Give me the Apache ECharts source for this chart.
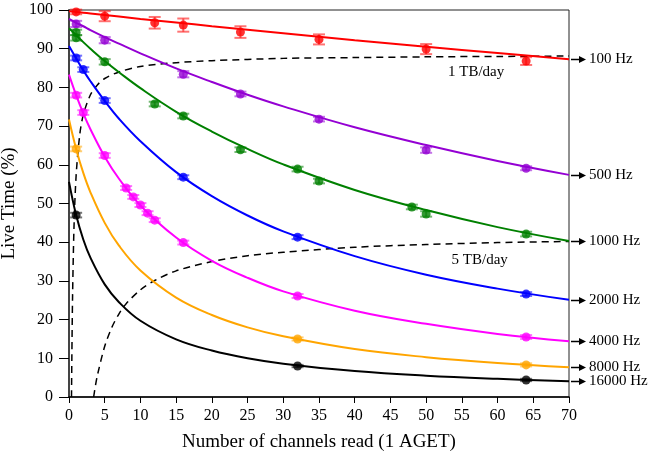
<!DOCTYPE html>
<html>
<head>
<meta charset="utf-8">
<script src="https://cdn.jsdelivr.net/npm/echarts@6/dist/echarts.min.js"></script>
<style>
html, body { margin: 0; padding: 0; background: #fff; }
#main { width: 651px; height: 459px; }
</style>
</head>
<body>
<div id="main"></div>
<script>
// fitted curves, sampled along x
var fitX = [0, 1, 2, 3, 5, 7, 10, 15, 20, 25, 30, 40, 50, 60, 70];
var fit100 = [99.7, 99.5, 99.3, 99.1, 98.7, 98.3, 97.7, 96.8, 95.8, 94.9, 94.0, 92.2, 90.5, 88.9, 87.3];
var fit500 = [97.7, 96.7, 95.8, 94.8, 93.0, 91.3, 88.8, 84.9, 81.4, 78.1, 75.1, 69.7, 65.1, 61.0, 57.4];
var fit1000 = [95.3, 93.5, 91.7, 90.0, 86.8, 83.9, 79.8, 73.7, 68.6, 64.1, 60.1, 53.5, 48.3, 43.9, 40.3];
var fit2000 = [90.7, 87.5, 84.4, 81.6, 76.5, 71.9, 66.1, 58.1, 51.9, 46.9, 42.8, 36.4, 31.6, 28.0, 25.1];
var fit4000 = [83.3, 78.0, 73.3, 69.2, 62.1, 56.4, 49.5, 41.2, 35.2, 30.8, 27.3, 22.3, 18.9, 16.3, 14.4];
var fit8000 = [71.7, 64.1, 57.9, 52.9, 45.0, 39.1, 32.7, 25.7, 21.2, 18.0, 15.7, 12.4, 10.3, 8.8, 7.7];
var fit16000 = [55.6, 47.0, 40.7, 36.0, 29.1, 24.5, 19.7, 14.9, 12.0, 10.0, 8.6, 6.7, 5.5, 4.7, 4.1];

// measured points: channels, live time, error
var m100X = [1, 5, 12, 16, 24, 35, 50, 64];
var m100Y = [99.5, 98.4, 96.7, 96.1, 94.3, 92.4, 89.9, 86.8];
var m100E = [0.6, 1.3, 1.5, 1.7, 1.5, 1.3, 1.3, 1.0];
var m500X = [1, 5, 16, 24, 35, 50, 64];
var m500Y = [96.4, 92.2, 83.4, 78.3, 71.8, 63.8, 59.1];
var m500E = [0.8, 0.8, 0.8, 0.6, 0.6, 0.7, 0.5];
var m1000X = [1, 1, 5, 12, 16, 24, 32, 35, 48, 50, 64];
var m1000Y = [94.2, 92.8, 86.6, 75.7, 72.6, 63.9, 58.9, 55.8, 49.1, 47.3, 42.1];
var m1000E = [0.7, 0.7, 0.7, 0.6, 0.6, 0.6, 0.6, 0.6, 0.6, 0.7, 0.6];
var m2000X = [1, 2, 5, 16, 32, 64];
var m2000Y = [87.6, 84.6, 76.6, 56.8, 41.3, 26.6];
var m2000E = [0.6, 0.6, 0.6, 0.5, 0.5, 0.5];
var m4000X = [1, 2, 5, 8, 9, 10, 11, 12, 16, 32, 64];
var m4000Y = [78.0, 73.5, 62.4, 54.0, 51.7, 49.6, 47.5, 45.7, 39.9, 26.1, 15.5];
var m4000E = [0.6, 0.6, 0.6, 0.5, 0.5, 0.5, 0.5, 0.5, 0.5, 0.5, 0.5];
var m8000X = [1, 32, 64];
var m8000Y = [64.1, 15.0, 8.3];
var m8000E = [0.6, 0.4, 0.4];
var m16000X = [1, 32, 64];
var m16000Y = [47.0, 8.0, 4.4];
var m16000E = [0.6, 0.3, 0.3];

// data-rate limits
var tb1X = [0.35, 0.4, 0.5, 0.7, 1, 1.5, 2, 3, 4, 5, 7, 10, 15, 20, 30, 40, 50, 60, 70];
var tb1Y = [0, 10.4, 26.0, 43.9, 57.3, 67.7, 72.9, 78.1, 80.7, 82.3, 84.0, 85.4, 86.4, 86.9, 87.5, 87.7, 87.9, 88.0, 88.1];
var tb5X = [3.45, 3.7, 4, 5, 6, 7, 8, 10, 12, 15, 20, 25, 30, 40, 50, 60, 70];
var tb5Y = [0, 2.9, 5.8, 13.1, 18.0, 21.5, 24.1, 27.7, 30.1, 32.6, 35.0, 36.5, 37.4, 38.7, 39.4, 39.9, 40.2];

var rateNames = ['100 Hz', '500 Hz', '1000 Hz', '2000 Hz', '4000 Hz', '8000 Hz', '16000 Hz'];
var rateColors = ['#ff0000', '#9400d3', '#008000', '#0000ff', '#ff00ff', '#ffa500', '#000000'];

var fits = [fit100, fit500, fit1000, fit2000, fit4000, fit8000, fit16000];
var measX = [m100X, m500X, m1000X, m2000X, m4000X, m8000X, m16000X];
var measY = [m100Y, m500Y, m1000Y, m2000Y, m4000Y, m8000Y, m16000Y];
var measE = [m100E, m500E, m1000E, m2000E, m4000E, m8000E, m16000E];

var serif = 'Liberation Serif';

function pairs(xs, ys) {
	return xs.map(function(x, i) { return [x, ys[i]]; });
}

var series = [];
rateNames.forEach(function(name, k) {
	series.push({
		name: name,
		type: 'line',
		data: pairs(fitX, fits[k]),
		showSymbol: false,
		smooth: 0.4,
		lineStyle: { color: rateColors[k], width: 2 },
		z: 2,
		silent: true
	});
	series.push({
		type: 'custom',
		data: measX[k].map(function(x, i) { return [x, measY[k][i], measE[k][i]]; }),
		renderItem: function(params, api) {
			var x = api.value(0), y = api.value(1), e = api.value(2);
			var top = api.coord([x, y + e]);
			var bot = api.coord([x, y - e]);
			var st = { stroke: rateColors[k], lineWidth: 2, opacity: 0.55 };
			return {
				type: 'group',
				children: [
					{ type: 'line', shape: { x1: top[0], y1: top[1], x2: bot[0], y2: bot[1] }, style: st },
					{ type: 'line', shape: { x1: top[0] - 6, y1: top[1], x2: top[0] + 6, y2: top[1] }, style: st },
					{ type: 'line', shape: { x1: bot[0] - 6, y1: bot[1], x2: bot[0] + 6, y2: bot[1] }, style: st }
				]
			};
		},
		z: 3,
		silent: true
	});
	series.push({
		type: 'scatter',
		data: pairs(measX[k], measY[k]),
		symbolSize: 9,
		itemStyle: { color: rateColors[k] },
		z: 4,
		silent: true
	});
});

series.push({
	type: 'line',
	data: pairs(tb1X, tb1Y),
	showSymbol: false,
	smooth: 0.3,
	lineStyle: { color: '#000', width: 1.5, type: [7, 5] },
	z: 1
});
series.push({
	type: 'line',
	data: pairs(tb5X, tb5Y),
	showSymbol: false,
	smooth: 0.3,
	lineStyle: { color: '#000', width: 1.5, type: [7, 5] },
	z: 1
});

var myChart = echarts.init(document.getElementById('main'));
var option = {
	animation: false,
	backgroundColor: '#fff',
	grid: {
		left: 69,
		right: 82,
		top: 10,
		bottom: 62,
		containLabel: false,
		outerBoundsMode: 'none',
		show: true,
		borderColor: '#222',
		borderWidth: 1
	},
	xAxis: {
		type: 'value',
		min: 0,
		max: 70,
		interval: 5,
		name: 'Number of channels read (1 AGET)',
		nameLocation: 'middle',
		nameGap: 36,
		nameTextStyle: { fontFamily: serif, fontSize: 19, color: '#000' },
		axisLine: { lineStyle: { color: '#000', width: 1.5 } },
		axisTick: { inside: false, length: 6, lineStyle: { color: '#000' } },
		axisLabel: { fontFamily: serif, fontSize: 16, color: '#000', margin: 11 },
		splitLine: { show: false }
	},
	yAxis: {
		type: 'value',
		min: 0,
		max: 100,
		interval: 10,
		name: 'Live Time (%)',
		nameLocation: 'middle',
		nameGap: 38,
		nameTextStyle: { fontFamily: serif, fontSize: 19, color: '#000' },
		axisLine: { lineStyle: { color: '#444', width: 2 } },
		axisTick: { inside: false, length: 10, lineStyle: { color: '#000' } },
		axisLabel: { fontFamily: serif, fontSize: 16, color: '#000', margin: 16 },
		splitLine: { show: false }
	},
	series: series
};
myChart.setOption(option, true);

// labels to the right with arrows, and the data-rate texts
var graphics = [];
var xEnd = fitX[fitX.length - 1];
rateNames.forEach(function(name, k) {
	var p = myChart.convertToPixel({ gridIndex: 0 }, [xEnd, fits[k][fits[k].length - 1]]);
	var x0 = p[0] + 2, y0 = Math.round(p[1]) + 0.5;
	graphics.push({
		type: 'line',
		shape: { x1: x0, y1: y0, x2: x0 + 10, y2: y0 },
		style: { stroke: '#000', lineWidth: 1.5 }
	});
	graphics.push({
		type: 'polygon',
		shape: { points: [[x0 + 8, y0 - 3.5], [x0 + 15, y0], [x0 + 8, y0 + 3.5]] },
		style: { fill: '#000' }
	});
	graphics.push({
		type: 'text',
		x: x0 + 18,
		y: y0,
		style: { text: name, fontFamily: serif, fontSize: 15, fill: '#000', verticalAlign: 'middle', align: 'left' }
	});
});
var tbLabels = [['1 TB/day', 57, 84], ['5 TB/day', 57.5, 35.5]];
tbLabels.forEach(function(t) {
	var p = myChart.convertToPixel({ gridIndex: 0 }, [t[1], t[2]]);
	graphics.push({
		type: 'text',
		x: p[0],
		y: p[1],
		style: { text: t[0], fontFamily: serif, fontSize: 15, fill: '#000', align: 'center', verticalAlign: 'middle' }
	});
});
myChart.setOption({ graphic: graphics });
</script>
</body>
</html>
